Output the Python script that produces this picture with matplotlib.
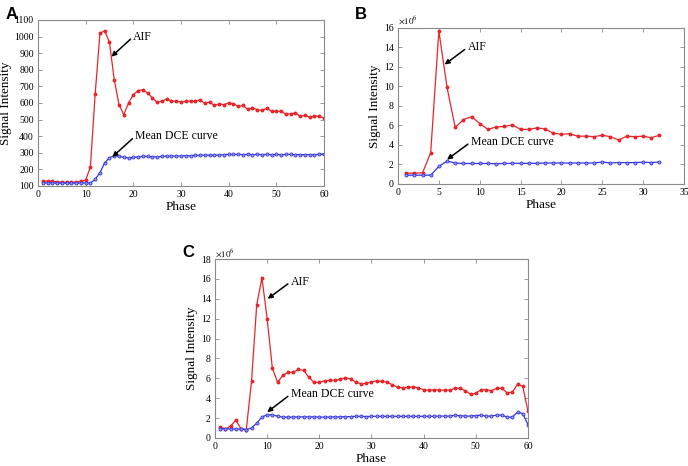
import numpy as np
import matplotlib
matplotlib.use("Agg")
import matplotlib.pyplot as plt

plt.rcParams['font.family'] = ['Liberation Serif', 'DejaVu Serif']
plt.rcParams['mathtext.fontset'] = 'stix'

# panel A: signal intensity, phases 1..60
a_phase = list(range(1, 61))
a_aif = [130, 128, 128, 125, 123, 122, 122, 125, 128, 135,
         215, 655, 1020, 1035, 965, 740, 590, 530, 600, 650,
         675, 680, 660, 630, 605, 610, 625, 610, 612, 605,
         610, 612, 610, 618, 598, 605, 585, 595, 590, 600,
         595, 580, 585, 562, 570, 560, 555, 568, 550, 550,
         550, 532, 535, 540, 520, 525, 515, 520, 520, 510]
a_dce = [118, 118, 118, 117, 117, 117, 117, 117, 118, 118,
         118, 140, 180, 240, 270, 283, 278, 272, 270, 272,
         275, 278, 278, 276, 275, 278, 280, 280, 280, 281,
         282, 282, 285, 285, 285, 286, 286, 286, 288, 290,
         290, 290, 289, 290, 289, 290, 289, 290, 289, 290,
         288, 290, 290, 289, 289, 288, 289, 289, 290, 290]

# panel B: signal intensity (x10^6), phases 1..32
b_phase = list(range(1, 33))
b_aif = [1.1, 1.1, 1.15, 3.2, 15.7, 9.9, 5.8, 6.6, 6.9, 6.2,
         5.6, 5.85, 5.9, 6.05, 5.6, 5.6, 5.75, 5.65, 5.2, 5.1,
         5.15, 4.9, 4.9, 4.85, 5.0, 4.85, 4.5, 4.9, 4.85, 4.9,
         4.75, 5.0]
b_dce = [0.9, 0.9, 0.9, 0.9, 1.8, 2.35, 2.15, 2.1, 2.1, 2.1,
         2.1, 2.08, 2.1, 2.12, 2.12, 2.12, 2.12, 2.15, 2.15, 2.15,
         2.15, 2.15, 2.15, 2.15, 2.25, 2.15, 2.2, 2.18, 2.2, 2.22,
         2.2, 2.25]

# panel C: signal intensity (x10^6), phases 1..60
c_phase = list(range(1, 61))
c_aif = [1.1, 0.9, 1.2, 1.8, 0.9, 0.85, 5.7, 13.4, 16.1, 12.0,
         7.0, 5.6, 6.3, 6.6, 6.6, 6.9, 6.8, 6.1, 5.6, 5.6,
         5.75, 5.8, 5.8, 5.9, 6.05, 5.95, 5.6, 5.45, 5.5, 5.65,
         5.75, 5.7, 5.6, 5.35, 5.1, 5.05, 5.1, 5.15, 5.05, 4.85,
         4.8, 4.85, 4.85, 4.8, 4.8, 5.0, 5.0, 4.75, 4.4, 4.5,
         4.85, 4.85, 4.75, 5.0, 5.0, 4.55, 4.6, 5.4, 5.2, 2.7]
c_dce = [0.9, 0.95, 0.9, 0.9, 0.9, 0.85, 1.0, 1.5, 2.1, 2.35,
         2.3, 2.2, 2.1, 2.1, 2.1, 2.12, 2.12, 2.12, 2.12, 2.1,
         2.1, 2.1, 2.12, 2.12, 2.15, 2.15, 2.18, 2.18, 2.15, 2.18,
         2.18, 2.18, 2.18, 2.18, 2.18, 2.18, 2.18, 2.18, 2.18, 2.18,
         2.18, 2.18, 2.2, 2.2, 2.2, 2.28, 2.25, 2.2, 2.2, 2.25,
         2.3, 2.2, 2.2, 2.3, 2.3, 2.1, 2.1, 2.6, 2.45, 1.35]

RED = '#e8262a'
BLUE = '#3535dd'
SPINE = '#8a8a8a'


def style(ax, xlim, xticks, ylim, yticks):
    ax.set_xlim(*xlim)
    ax.set_ylim(*ylim)
    ax.set_xticks(xticks)
    ax.set_yticks(yticks)
    ax.tick_params(direction='in', length=3, width=0.6, labelsize=7,
                   top=True, right=True, color=SPINE, pad=3)
    for s in ax.spines.values():
        s.set_color(SPINE)
        s.set_linewidth(0.8)
    ax.set_xlabel('Phase', fontsize=9.5, labelpad=1)
    ax.set_ylabel('Signal Intensity', fontsize=9.5, labelpad=2)


def curves(ax, x, aif, dce):
    ax.plot(x, aif, color=RED, lw=0.9, marker='o', ms=1.8, mfc=RED, mec=RED)
    ax.plot(x, dce, color=BLUE, lw=0.9, marker='o', ms=2.2, mfc='#9a9af0',
            mec=BLUE, mew=0.6)


def note(ax, text, tail, head):
    ax.annotate(text, xy=head, xytext=tail, fontsize=8.5, va='center', ha='left',
                arrowprops=dict(arrowstyle='-|>', color='black', lw=1.1,
                                mutation_scale=7, shrinkA=0, shrinkB=0,
                                relpos=(0, 0.5)))


fig = plt.figure(figsize=(6.88, 4.66), dpi=100)

axA = fig.add_axes([0.0552, 0.6009, 0.4157, 0.3562])
curves(axA, a_phase, a_aif, a_dce)
style(axA, (0, 60), range(0, 61, 10), (100, 1100), range(100, 1101, 100))
note(axA, 'AIF', (20.0, 1000), (15.4, 879))
note(axA, 'Mean DCE curve', (20.4, 400), (15.6, 275))

axB = fig.add_axes([0.5785, 0.6052, 0.4157, 0.3348])
curves(axB, b_phase, b_aif, b_dce)
style(axB, (0, 35), range(0, 36, 5), (0, 16), range(0, 17, 2))
note(axB, 'AIF', (8.5, 14.0), (5.7, 12.25))
note(axB, 'Mean DCE curve', (8.9, 4.3), (6.0, 2.5))
axB.text(0.0, 1.01, r'$\times10^6$', transform=axB.transAxes, fontsize=6.5,
         va='bottom', ha='left')

axC = fig.add_axes([0.3125, 0.0601, 0.4549, 0.3841])
curves(axC, c_phase, c_aif, c_dce)
style(axC, (0, 60), range(0, 61, 10), (0, 18), range(0, 19, 2))
note(axC, 'AIF', (14.5, 15.7), (10.1, 14.0))
note(axC, 'Mean DCE curve', (14.5, 4.4), (10.0, 2.6))
axC.text(0.0, 1.0, r'$\times10^6$', transform=axC.transAxes, fontsize=6.5,
         va='bottom', ha='left')

for lab, x, y in [('A', 0.008, 0.985), ('B', 0.516, 0.985), ('C', 0.265, 0.475)]:
    fig.text(x, y, lab, fontsize=12, fontweight='bold', family='Liberation Sans',
             va='top', ha='left')

fig.savefig('out.png', dpi=100)
